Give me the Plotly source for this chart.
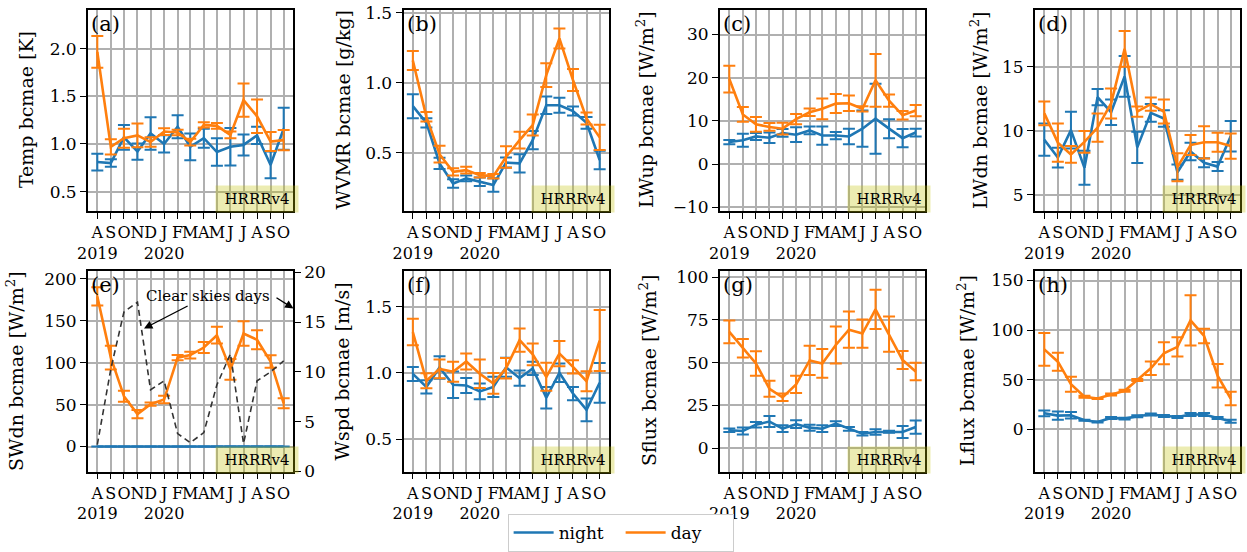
import plotly.graph_objects as go

# ---------------------------------------------------------------- data
months = ["2019-08-01", "2019-09-01", "2019-10-01", "2019-11-01", "2019-12-01",
          "2020-01-01", "2020-02-01", "2020-03-01", "2020-04-01", "2020-05-01",
          "2020-06-01", "2020-07-01", "2020-08-01", "2020-09-01", "2020-10-01"]
month_labels = ["A<br>2019", "S", "O", "N", "D", "J<br>2020", "F", "M", "A", "M",
                "J", "J", "A", "S", "O"]

temp_night = [0.81, 0.80, 1.07, 0.92, 1.11, 1.00, 1.18, 0.97, 1.06, 0.915, 0.97, 0.99, 1.09, 0.78, 1.16]
temp_night_err = [0.088, 0.04, 0.13, 0.085, 0.17, 0.09, 0.12, 0.14, 0.10, 0.144, 0.196, 0.11, 0.09, 0.14, 0.22]
temp_day = [1.965, 0.97, 1.06, 1.09, 1.02, 1.13, 1.12, 1.02, 1.20, 1.19, 1.095, 1.46, 1.29, 1.025, 1.04]
temp_day_err = [0.167, 0.08, 0.10, 0.125, 0.05, 0.035, 0.03, 0.035, 0.027, 0.03, 0.035, 0.175, 0.175, 0.10, 0.105]

wvmr_night = [0.833, 0.714, 0.424, 0.28, 0.317, 0.293, 0.27, 0.43, 0.424, 0.59, 0.84, 0.84, 0.798, 0.714, 0.448]
wvmr_night_err = [0.086, 0.033, 0.04, 0.03, 0.02, 0.03, 0.048, 0.036, 0.065, 0.065, 0.062, 0.054, 0.032, 0.042, 0.066]
wvmr_day = [1.16, 0.757, 0.49, 0.364, 0.376, 0.34, 0.333, 0.47, 0.59, 0.698, 1.055, 1.317, 1.02, 0.745, 0.61]
wvmr_day_err = [0.068, 0.034, 0.06, 0.026, 0.025, 0.016, 0.016, 0.077, 0.06, 0.075, 0.085, 0.071, 0.078, 0.043, 0.09]

lwup_night = [5.1, 5.5, 6.4, 6.1, 7.2, 6.8, 7.8, 6.6, 6.6, 6.4, 8.2, 10.5, 8.2, 6.0, 7.3]
lwup_night_err = [0.5, 1.5, 0.8, 1.2, 0.9, 1.7, 0.9, 2.1, 0.85, 1.8, 4.2, 8.1, 2.2, 2.1, 0.9]
lwup_day = [19.7, 11.5, 9.2, 8.6, 8.2, 10.4, 12.0, 12.8, 14.0, 14.1, 12.8, 19.4, 14.7, 11.3, 12.4]
lwup_day_err = [3.1, 1.7, 1.7, 0.9, 1.35, 1.2, 0.85, 2.4, 2.2, 1.8, 0.6, 6.1, 1.4, 1.0, 1.3]

lwdn_night = [9.3, 7.9, 10.05, 7.1, 12.63, 11.45, 14.25, 8.7, 11.4, 10.96, 6.76, 8.38, 7.5, 7.2, 9.57]
lwdn_night_err = [1.26, 0.78, 1.43, 1.33, 0.63, 1.0, 1.6, 1.23, 0.7, 0.65, 0.6, 0.68, 0.35, 0.35, 1.2]
lwdn_day = [11.36, 9.07, 8.15, 9.13, 10.25, 12.13, 16.4, 11.5, 12.08, 11.5, 7.15, 8.88, 9.1, 9.1, 8.8]
lwdn_day_err = [0.92, 1.5, 0.65, 0.85, 1.1, 1.17, 1.4, 0.4, 0.52, 0.94, 1.1, 0.78, 1.26, 0.74, 0.98]

swdn_night = [0.0] * 15
swdn_night_err = [0.0] * 15
swdn_day = [179.0, 106.0, 60.0, 38.6, 50.5, 56.0, 106.0, 109.0, 118.0, 132.7, 92.0, 134.7, 127.3, 101.4, 51.5]
swdn_day_err = [10.9, 14.3, 6.5, 5.0, 2.0, 4.5, 3.0, 4.0, 6.5, 10.0, 12.3, 14.6, 11.3, 7.5, 6.0]
clear_sky_days = [2.7, 10.3, 16.0, 17.0, 8.2, 9.1, 3.8, 2.9, 3.9, 8.7, 11.8, 2.8, 9.1, 10.0, 11.1]

wspd_night = [0.992, 0.894, 1.04, 0.91, 0.905, 0.86, 0.894, 1.042, 0.96, 1.033, 0.812, 1.0, 0.844, 0.72, 0.925]
wspd_night_err = [0.053, 0.05, 0.085, 0.1, 0.057, 0.06, 0.076, 0.072, 0.058, 0.05, 0.082, 0.07, 0.05, 0.086, 0.15]
wspd_day = [1.308, 0.94, 1.03, 1.008, 1.086, 0.993, 0.92, 1.035, 1.247, 1.14, 0.97, 1.145, 1.045, 0.937, 1.244]
wspd_day_err = [0.1, 0.057, 0.07, 0.076, 0.06, 0.107, 0.078, 0.078, 0.088, 0.082, 0.106, 0.095, 0.05, 0.076, 0.23]

sflux_night = [10.4, 10.0, 13.7, 15.5, 11.35, 14.0, 11.95, 11.35, 14.3, 11.25, 8.4, 9.4, 9.6, 9.4, 12.3]
sflux_night_err = [1.0, 2.0, 1.6, 3.2, 2.0, 2.25, 1.75, 2.0, 1.4, 1.1, 1.0, 1.6, 0.6, 3.5, 3.9]
sflux_day = [68.0, 58.4, 49.5, 34.7, 29.7, 37.3, 51.3, 49.5, 60.3, 69.3, 67.0, 81.2, 66.7, 51.5, 44.8]
sflux_day_err = [6.7, 5.4, 7.2, 4.7, 2.2, 5.0, 8.6, 8.4, 10.8, 10.6, 8.3, 11.5, 10.3, 5.3, 5.1]

lflux_night = [16.2, 13.8, 14.2, 9.1, 7.4, 11.5, 10.8, 13.2, 14.9, 13.5, 12.5, 14.9, 14.9, 11.5, 8.1]
lflux_night_err = [2.9, 4.2, 3.2, 0.5, 0.5, 1.0, 0.8, 1.0, 1.0, 1.0, 1.0, 1.5, 1.5, 1.0, 1.5]
lflux_day = [80.6, 68.2, 45.4, 32.8, 31.1, 35.1, 38.9, 49.7, 61.5, 76.7, 83.1, 109.8, 94.1, 54.0, 31.1]
lflux_day_err = [16.4, 9.1, 7.6, 1.0, 0.5, 1.0, 1.0, 1.0, 6.8, 11.1, 9.8, 25.3, 7.3, 11.8, 6.8]

panel_tags = ["(a)", "(b)", "(c)", "(d)", "(e)", "(f)", "(g)", "(h)"]
y_titles = ["Temp bcmae [K]", "WVMR bcmae [g/kg]", "LWup bcmae [W/m<sup>2</sup>]",
            "LWdn bcmae [W/m<sup>2</sup>]", "SWdn bcmae [W/m<sup>2</sup>]",
            "Wspd bcmae [m/s]", "Sflux bcmae [W/m<sup>2</sup>]", "Lflux bcmae [W/m<sup>2</sup>]"]
y_ticks = [[0.5, 1.0, 1.5, 2.0], [0.5, 1.0, 1.5], [-10, 0, 10, 20, 30], [5, 10, 15],
           [0, 50, 100, 150, 200], [0.5, 1.0, 1.5], [0, 25, 50, 75, 100], [0, 50, 100, 150]]
clear_ticks = [0, 5, 10, 15, 20]

series = [
    (temp_night, temp_night_err, temp_day, temp_day_err),
    (wvmr_night, wvmr_night_err, wvmr_day, wvmr_day_err),
    (lwup_night, lwup_night_err, lwup_day, lwup_day_err),
    (lwdn_night, lwdn_night_err, lwdn_day, lwdn_day_err),
    (swdn_night, swdn_night_err, swdn_day, swdn_day_err),
    (wspd_night, wspd_night_err, wspd_day, wspd_day_err),
    (sflux_night, sflux_night_err, sflux_day, sflux_day_err),
    (lflux_night, lflux_night_err, lflux_day, lflux_day_err),
]

# ---------------------------------------------------------------- layout geometry (px)
W, H = 1247, 552
col_px = [(88, 293), (403.5, 609), (720, 925), (1035, 1240)]
row_px = [(9.5, 210.7), (270.5, 471.5)]
y_ranges = [[0.30, 2.41], [0.086, 1.524], [-10.8, 35.8], [3.75, 19.48],
            [-29.8, 209.9], [0.255, 1.773], [-13.7, 103.9], [-42.5, 160.1]]
y_formats = [".1f", ".1f", "d", "d", "d", ".1f", "d", "d"]
title_offset = [62, 60, 75, 56, 73, 62, 72, 69]
x_range = ["2019-07-10 15:36", "2020-10-22 08:24"]

NIGHT = "#1f77b4"
DAY = "#ff7f0e"
FONT = "DejaVu Serif"
GRID = "#b0b0b0"

fig = go.Figure()
layout = dict(
    width=W, height=H,
    margin=dict(l=0, r=0, t=0, b=0, autoexpand=False),
    paper_bgcolor="white", plot_bgcolor="white",
    font=dict(family=FONT, size=16, color="black"),
    showlegend=True,
    legend=dict(orientation="h", x=0.4977, xanchor="center",
                yref="container", y=-0.033, yanchor="bottom",
                bordercolor="#cccccc", borderwidth=1, bgcolor="white",
                font=dict(family=FONT, size=17, color="black"),
                itemwidth=40, entrywidth=57, tracegroupgap=0),
)
annotations = []


def ax_name(prefix, n):
    return prefix if n == 1 else f"{prefix}{n}"


for i, (night, night_err, day, day_err) in enumerate(series):
    n = i + 1
    col = i % 4
    row = i // 4
    xl, xr = col_px[col]
    yt, yb = row_px[row]
    xref = ax_name("x", n)
    yref = ax_name("y", n)

    for vals, errs, color, name in ((night, night_err, NIGHT, "night"), (day, day_err, DAY, "day")):
        fig.add_trace(go.Scatter(
            x=months, y=vals, mode="lines", name=name,
            line=dict(color=color, width=2.6),
            error_y=dict(type="data", array=errs, visible=True, color=color, thickness=2, width=6),
            xaxis=xref, yaxis=yref, showlegend=(n == 1),
        ))

    layout[ax_name("xaxis", n)] = dict(
        domain=[xl / W, xr / W], anchor=yref, type="date", range=x_range,
        tickmode="array", tickvals=months, ticktext=month_labels,
        ticks="outside", ticklen=6, tickwidth=1.3, tickcolor="black",
        showline=True, mirror=True, linecolor="black", linewidth=1.8,
        showgrid=True, gridcolor=GRID, gridwidth=1.6, zeroline=False,
        tickfont=dict(family=FONT, size=16, color="black"), tickangle=0,
        automargin=False,
    )
    layout[ax_name("yaxis", n)] = dict(
        domain=[1 - yb / H, 1 - yt / H], anchor=xref, range=y_ranges[i],
        tickmode="array", tickvals=y_ticks[i], tickformat=y_formats[i],
        ticks="outside", ticklen=6, tickwidth=1.3, tickcolor="black",
        showline=True, mirror=True, linecolor="black", linewidth=1.8,
        showgrid=True, gridcolor=GRID, gridwidth=1.6, zeroline=False,
        tickfont=dict(family=FONT, size=17, color="black"),
        automargin=False,
    )

    # panel tag in the upper-left corner
    annotations.append(dict(
        text=panel_tags[i], xref=f"{xref} domain", yref=f"{yref} domain",
        x=0.005, y=1.0, xanchor="left", yanchor="top", showarrow=False,
        font=dict(family=FONT, size=21, color="black"),
    ))
    # model-version badge in the lower-right corner
    annotations.append(dict(
        text="HRRRv4", xref=f"{xref} domain", yref=f"{yref} domain",
        x=1 + 6 / (xr - xl), y=0, xanchor="right", yanchor="bottom", yshift=-2,
        showarrow=False, width=82, height=26, borderpad=0, align="center",
        bgcolor="rgba(191,191,0,0.3)",
        font=dict(family=FONT, size=15, color="black"),
    ))
    # y-axis title
    annotations.append(dict(
        text=y_titles[i], xref="paper", yref=f"{yref} domain",
        x=(xl - title_offset[i]) / W, y=0.5, xanchor="center", yanchor="middle",
        textangle=-90, showarrow=False,
        font=dict(family=FONT, size=19, color="black"),
    ))

# clear-sky day counts on a twin axis of panel (e)
fig.add_trace(go.Scatter(
    x=months, y=clear_sky_days, mode="lines", name="Clear skies days",
    line=dict(color="#333333", width=1.6, dash="6px,4px"),
    xaxis="x5", yaxis="y9", showlegend=False,
))
layout["yaxis9"] = dict(
    overlaying="y5", anchor="x5", side="right", range=[0, 20.17],
    tickmode="array", tickvals=clear_ticks,
    ticks="outside", ticklen=6, tickwidth=1.3, tickcolor="black",
    showline=True, linecolor="black", linewidth=1.8,
    showgrid=False, zeroline=False, automargin=False,
    tickfont=dict(family=FONT, size=17, color="black"),
)

e_left, e_right = col_px[0]
e_top, e_bot = row_px[1]
e_w = e_right - e_left
e_h = e_bot - e_top
annotations.append(dict(
    text="Clear skies days", xref="x5 domain", yref="y5 domain",
    x=(144 - e_left) / e_w, y=(e_bot - 328.5) / e_h,
    ax=64, ay=-33, showarrow=True, arrowhead=2, arrowsize=1.2, arrowwidth=1.4,
    arrowcolor="black", font=dict(family=FONT, size=15, color="black"),
))
annotations.append(dict(
    text=" ", xref="x5 domain", yref="y5 domain",
    x=(293.5 - e_left) / e_w, y=(e_bot - 308.5) / e_h,
    ax=-19, ay=-12, showarrow=True, arrowhead=2, arrowsize=1.2, arrowwidth=1.4,
    arrowcolor="black", font=dict(family=FONT, size=4, color="black"),
))

layout["annotations"] = annotations
fig.update_layout(**layout)
fig.write_html("out.html")
